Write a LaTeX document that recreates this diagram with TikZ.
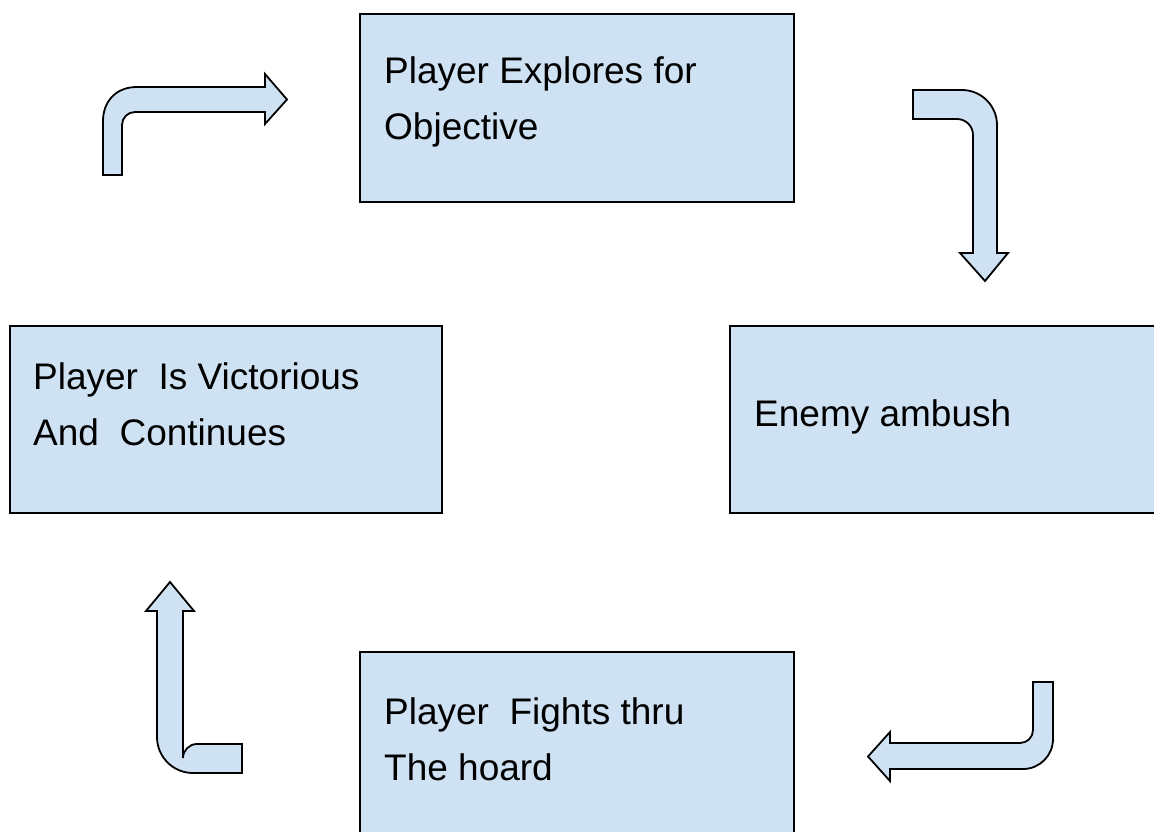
\documentclass[tikz,border=0pt]{standalone}
\usepackage{fontspec}
\setmainfont{Liberation Sans}
\definecolor{boxfill}{HTML}{CFE2F3}
\begin{document}
\begin{tikzpicture}[x=1pt,y=-1pt,
  stagebox/.style={draw=black, line width=1.8pt, fill=boxfill, rectangle,
    anchor=north west, inner sep=0pt},
  % the base anchor of a multi-line label sits on its last baseline
  stagetext/.style={anchor=base west, align=left, inner sep=0pt,
    font=\fontsize{37}{56}\selectfont},
  bentarrow/.style={draw=black, line width=1.8pt, fill=boxfill, line join=miter}]
\useasboundingbox (0,0) rectangle (1154,832);
\clip (0,0) rectangle (1154,832);

% stage boxes
\node[stagebox, minimum width=434pt, minimum height=188pt] (explore) at (359,13) {};
\node[stagebox, minimum width=432pt, minimum height=187pt] (victory) at (9,325) {};
\node[stagebox, minimum width=460pt, minimum height=187pt] (ambush) at (729,325) {};
\node[stagebox, minimum width=434pt, minimum height=220pt] (fight) at (359,651) {};

% stage labels
\node[stagetext] (explore-text) at (384,140) {Player Explores for\\Objective};
\node[stagetext] (victory-text) at (33,445) {Player\ \ Is Victorious\\And\ \ Continues};
\node[stagetext] (ambush-text) at (754,426) {Enemy ambush};
\node[stagetext] (fight-text) at (384,780) {Player\ \ Fights thru\\The hoard};

% bent arrow: up, then right (into the exploring stage)
\draw[bentarrow] (103,175) -- (103,121)
  .. controls (103,102.2) and (115.2,87) .. (137,87)
  -- (265,87) -- (265,74) -- (287,99.5) -- (265,124) -- (265,112)
  -- (135,112) .. controls (127.8,112) and (122,117.8) .. (122,125)
  -- (122,175) -- cycle;

% bent arrow: right, then down (towards the ambush)
\draw[bentarrow] (913,90) -- (962,90)
  .. controls (981.3,90) and (997,105.7) .. (997,125)
  -- (997,253) -- (1008,253) -- (985,281) -- (960,253) -- (973,253)
  -- (973,135) .. controls (973,126.2) and (965.8,119) .. (957,119)
  -- (913,119) -- cycle;

% bent arrow: down, then left (towards the fight)
\draw[bentarrow] (1033,682) -- (1053,682) -- (1053,739)
  .. controls (1053,755.6) and (1039.6,769) .. (1023,769)
  -- (890,769) -- (890,781) -- (868,756.5) -- (890,732) -- (890,743)
  -- (1020,743) .. controls (1027.2,743) and (1033,737.2) .. (1033,730)
  -- cycle;

% bent arrow: left, then up (towards the victory)
\draw[bentarrow] (242,744) -- (242,773) -- (193,773)
  .. controls (173.1,773) and (157,756.9) .. (157,737)
  -- (157,611) -- (146,611) -- (170,582) -- (194,611) -- (183,611)
  -- (183,758) .. controls (183,750.3) and (189.3,744) .. (197,744)
  -- cycle;
\end{tikzpicture}
\end{document}
